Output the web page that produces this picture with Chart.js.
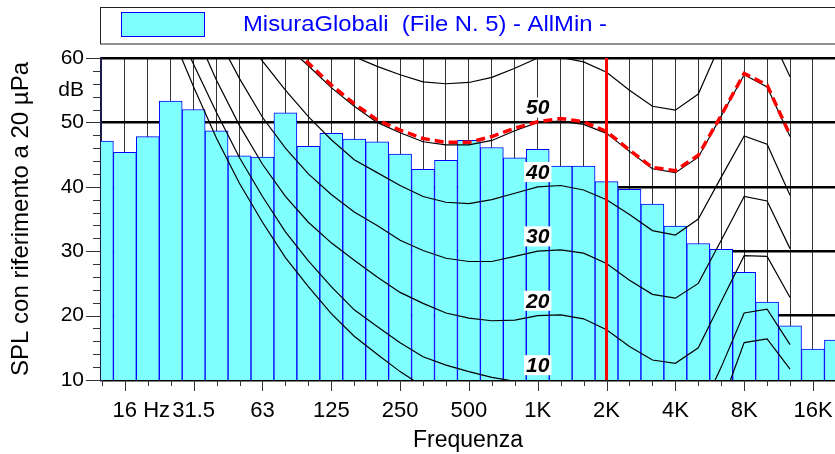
<!DOCTYPE html>
<html>
<head>
<meta charset="utf-8">
<script src="https://cdn.jsdelivr.net/npm/chart.js@4.4.1/dist/chart.umd.min.js"></script>
<style>
    html, body { margin: 0; padding: 0; background: #fff; overflow: hidden; }
    #wrap { width: 835px; height: 454px; position: relative; }
</style>
</head>
<body>
<div id="wrap"><canvas id="chart" width="835" height="454"></canvas></div>
<script>
// Third-octave bands, index 0 = 12.5 Hz
const bands = ['12.5', '16', '20', '25', '31.5', '40', '50', '63', '80', '100', '125', '160', '200',
    '250', '315', '400', '500', '630', '800', '1K', '1.25K', '1.6K', '2K', '2.5K', '3.15K', '4K',
    '5K', '6.3K', '8K', '10K', '12.5K', '16K', '20K'];

// Measured level per band (dB)
const levels = [47.1, 45.35, 47.8, 53.3, 52.0, 48.7, 44.8, 44.6, 51.5, 46.3, 48.3, 47.4, 47.0,
    45.1, 42.7, 44.1, 47.2, 46.1, 44.5, 45.8, 43.2, 43.2, 40.8, 39.6, 37.3, 33.9,
    31.2, 30.3, 26.7, 22.1, 18.4, 14.8, 16.2];

// Equal loudness contours, bands 12.5 Hz .. 12.5 kHz (null = outside the plot)
const N = null;
const threshold = [N, N, N, 64, 55.5, 47.5, 40.5, 34.5, 29, 24.5, 20.3, 16.8, 14, 11.3, 9,
    N, N, N, N, N, N, N, N, N, N, N, N, 6.1, 15.8, 16.4, 11.7];
const phon10 = [N, N, N, 66.5, 59, 51.5, 44.5, 38.5, 33, 28.5, 24.5, 20.9, 18.3, 15.8, 13.6, 12.3,
    11.3, 10.4, 9.8, 9.7, 9.8, 9.3, 7.2, 5.2, 3.5, 3.0, 4.5, 12.0, 20.4, 21.0, 15.5];
const phon20 = [N, N, N, N, 64.5, 56.5, 49.5, 43.5, 38.5, 34.5, 31.3, 28.6, 26.0, 23.6, 21.9, 20.4,
    19.6, 19.2, 19.3, 20.0, 20.1, 19.5, 17.8, 15.2, 13.1, 12.6, 15.0, 22.2, 29.3, 29.2, 22.8];
const phon30 = [N, N, N, N, N, 63.5, 56.8, 50.8, 46, 42, 38.8, 36.1, 34.0, 31.7, 30.1, 28.9,
    28.4, 28.4, 29.2, 30.0, 30.2, 29.7, 28.1, 25.5, 23.3, 22.7, 25.0, 31.7, 38.5, 37.8, 30.4];
const phon40 = [N, N, N, N, N, N, 64.5, 59.5, 55.0, 50.9, 47.3, 44.2, 42.2, 40.2, 38.5, 37.6,
    37.4, 38.0, 39.0, 40.0, 40.2, 39.5, 38.0, 35.7, 33.2, 32.5, 35.0, 41.5, 47.9, 46.6, 38.7];
const phon50 = [N, N, N, N, N, N, N, N, 62, 58.8, 55.4, 52.5, 50.0, 48.4, 47.0, 46.5,
    46.5, 47.2, 48.7, 50.0, 50.2, 49.7, 48.3, 45.5, 42.8, 42.2, 44.6, 51.0, 57.4, 55.5, 47.8];
const phon60 = [N, N, N, N, N, N, N, N, N, N, 62, 60.2, 58.7, 57.4, 56.3, 56.0,
    56.2, 57.0, 58.4, 60.0, 60.1, 59.4, 57.8, 55.0, 52.5, 51.9, 54.4, 62.5, 68, 64.7, 57.1];
const limitCurve = [N, N, N, N, N, N, N, N, 62.5, 59.2, 55.8, 52.9, 50.4, 48.8, 47.5, 46.9,
    46.9, 47.8, 49.1, 50.1, 50.6, 50.1, 48.6, 45.7, 43.0, 42.5, 44.9, 51.1, 57.6, 55.8, 48.0];

// Axis labels
const tickBands = [1, 4, 7, 10, 13, 16, 19, 22, 25, 28, 31];
const tickLabels = ['16', '31.5', '63', '125', '250', '500', '1K', '2K', '4K', '8K', '16K'];
const xUnit = ' Hz';
const yTicks = [10, 20, 30, 40, 50, 55, 60];
const yUnitAt = 55;
const yUnit = 'dB';
const contourPhons = [50, 40, 30, 20, 10];
const contourLabelBand = 19;   // 1 kHz
const markerBand = 22;         // 2 kHz
const legendText = 'MisuraGlobali  (File N. 5) - AllMin -';

const FONT = 'Arial, "Liberation Sans", sans-serif';
Chart.defaults.font.family = FONT;
Chart.defaults.color = '#000';

const toPoints = arr => arr.map((v, i) => ({ x: i, y: v }));

const contour = (label, data) => ({
    type: 'line',
    label: label,
    data: toPoints(data),
    borderColor: '#000',
    borderWidth: 1.2,
    pointRadius: 0,
    tension: 0,
    fill: false,
    order: 2
});

const overlay = {
    id: 'overlay',
    afterDatasetsDraw(chart) {
        const { ctx, chartArea: a } = chart;
        const x = chart.scales.x, y = chart.scales.y;
        ctx.save();
        // 2 kHz marker
        const mx = x.getPixelForValue(markerBand);
        ctx.strokeStyle = '#ff0000';
        ctx.lineWidth = 3;
        ctx.beginPath();
        ctx.moveTo(mx, a.top);
        ctx.lineTo(mx, a.bottom);
        ctx.stroke();

        // contour labels
        ctx.font = 'italic bold 21px ' + FONT;
        ctx.textAlign = 'center';
        ctx.textBaseline = 'middle';
        const lx = x.getPixelForValue(contourLabelBand);
        contourPhons.forEach(p => {
            const ly = y.getPixelForValue(p + 2.3);
            const t = String(p);
            const w = ctx.measureText(t).width + 4;
            ctx.fillStyle = '#fff';
            ctx.fillRect(lx - w / 2, ly - 10, w, 20);
            ctx.fillStyle = '#000';
            ctx.fillText(t, lx, ly + 1);
        });
        ctx.restore();
    },
    afterDraw(chart) {
        const { ctx, chartArea: a } = chart;
        const x = chart.scales.x, y = chart.scales.y;
        ctx.save();

        // tick marks
        ctx.strokeStyle = '#333';
        ctx.lineWidth = 1;
        ctx.beginPath();
        for (let v = y.min; v <= y.max; v += 2) {
            const py = Math.round(y.getPixelForValue(v)) + 0.5;
            ctx.moveTo(a.left - (v % 10 === 0 ? 15 : 8), py);
            ctx.lineTo(a.left, py);
        }
        bands.forEach((b, i) => {
            if (i < x.min || i > x.max) return;
            const px = Math.round(x.getPixelForValue(i)) + 0.5;
            ctx.moveTo(px, a.bottom);
            ctx.lineTo(px, a.bottom + (tickBands.includes(i) ? 11 : 6));
        });
        ctx.stroke();

        // x tick labels
        ctx.font = '22px ' + FONT;
        ctx.fillStyle = '#000';
        ctx.textBaseline = 'alphabetic';
        tickBands.forEach((b, k) => {
            const px = x.getPixelForValue(b);
            ctx.textAlign = 'center';
            ctx.fillText(tickLabels[k], px, a.bottom + 37);
            if (k === 0) {
                ctx.textAlign = 'left';
                ctx.fillText(xUnit, px + ctx.measureText(tickLabels[k]).width / 2, a.bottom + 37);
            }
        });

        // legend
        ctx.strokeStyle = '#222';
        ctx.lineWidth = 1;
        ctx.strokeRect(100.5, 7.5, 760, 36.5);
        ctx.fillStyle = '#80ffff';
        ctx.fillRect(121, 12, 84, 25);
        ctx.strokeStyle = '#0000ff';
        ctx.strokeRect(121.5, 12.5, 83, 24);
        ctx.font = '22px ' + FONT;
        ctx.fillStyle = '#0000ff';
        ctx.textAlign = 'left';
        const tw = ctx.measureText(legendText).width;
        ctx.translate(243, 31);
        ctx.scale(364 / tw, 1);
        ctx.fillText(legendText, 0, 0);
        ctx.restore();
    }
};

new Chart(document.getElementById('chart'), {
    type: 'bar',
    data: {
        datasets: [
            {
                type: 'line',
                label: 'Limite',
                data: toPoints(limitCurve),
                borderColor: '#ff0000',
                borderWidth: 3.5,
                borderDash: [9, 5],
                pointRadius: 0,
                tension: 0,
                fill: false,
                order: 1
            },
            contour('60', phon60),
            contour('50', phon50),
            contour('40', phon40),
            contour('30', phon30),
            contour('20', phon20),
            contour('10', phon10),
            contour('soglia', threshold),
            {
                type: 'bar',
                label: legendText,
                data: toPoints(levels),
                backgroundColor: '#80ffff',
                borderColor: '#0000ff',
                borderWidth: { top: 1, left: 1, right: 1, bottom: 0 },
                borderSkipped: false,
                barPercentage: 1,
                categoryPercentage: 1,
                clip: 0,
                order: 3
            }
        ]
    },
    options: {
        responsive: false,
        animation: false,
        layout: { padding: { top: 58, left: 0, right: 0, bottom: 0 } },
        plugins: {
            legend: { display: false },
            tooltip: { enabled: false }
        },
        scales: {
            x: {
                type: 'linear',
                min: -0.04,
                max: 31.96,
                offset: false,
                afterBuildTicks: s => { s.ticks = bands.map((b, i) => ({ value: i })); },
                afterFit: s => { s.height = 74; },
                grid: { color: '#333', lineWidth: 1, drawTicks: false, offset: false },
                border: { display: true, color: '#000', width: 2 },
                ticks: { display: false },
                title: {
                    display: true,
                    text: 'Frequenza',
                    font: { size: 23 },
                    color: '#000',
                    padding: { top: 0, bottom: 0 }
                }
            },
            y: {
                type: 'linear',
                min: 10,
                max: 60,
                afterBuildTicks: s => { s.ticks = yTicks.map(v => ({ value: v })); },
                afterFit: s => { s.width = 101; },
                grid: {
                    drawTicks: false,
                    color: c => (c.tick && c.tick.value === yUnitAt) ? 'rgba(0,0,0,0)' : '#000',
                    lineWidth: c => (c.tick && c.tick.value === yUnitAt) ? 0 : 2.5
                },
                border: { display: true, color: '#1a1a50', width: 2 },
                ticks: {
                    autoSkip: false,
                    padding: 17,
                    font: { size: 21 },
                    color: '#000',
                    callback: v => v === yUnitAt ? yUnit : String(v)
                },
                title: {
                    display: true,
                    text: 'SPL con riferimento a 20 µPa',
                    font: { size: 24 },
                    color: '#000',
                    padding: { top: 7, bottom: 0 }
                }
            }
        }
    },
    plugins: [overlay]
});
</script>
</body>
</html>
